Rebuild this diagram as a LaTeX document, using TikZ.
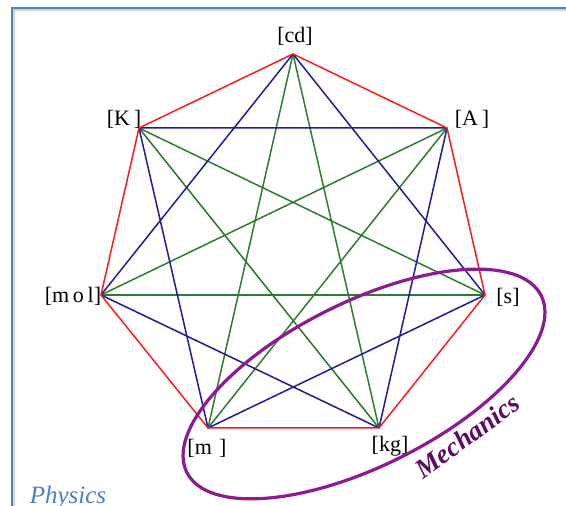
\documentclass[tikz,border=0pt]{standalone}
\usepackage{fontspec}
\setmainfont{Liberation Serif}
\usepackage{tikz}
\usetikzlibrary{calc}
\definecolor{sideR}{HTML}{FF1A1A}
\definecolor{skipB}{HTML}{1C1C9C}
\definecolor{skipG}{HTML}{2E7D2E}
\definecolor{mech}{HTML}{8E1A92}
\definecolor{mechtxt}{HTML}{5E0A5E}
\definecolor{frameB}{HTML}{4F81BD}
\definecolor{physB}{HTML}{4A7EC0}
\tikzset{
  unitlab/.style={font=\fontsize{22}{22}\selectfont,inner sep=0pt},
  side/.style={sideR,line width=1.5pt},
  skipone/.style={skipB,line width=1.5pt},
  skiptwo/.style={skipG,line width=1.5pt},
}

\begin{document}
\begin{tikzpicture}[x=1pt,y=1pt]
\useasboundingbox (0,0) rectangle (566,506);
% frame
\draw[gray!35,line width=2pt] (14,-20) -- (14,496) -- (600,496);
\draw[frameB,line width=2pt] (12,-20) -- (12,498) -- (600,498);
% the seven units
\coordinate (cd)  at (293,452);
\coordinate (A)   at (447,378);
\coordinate (s)   at (485,211);
\coordinate (kg)  at (379,78);
\coordinate (m)   at (208,78);
\coordinate (mol) at (101,211);
\coordinate (K)   at (139,378);
\node[unitlab] (cdlab)  at (295,470) {[cd]};
\node[unitlab] (Alab)   at (472,387) {[A\,]};
\node[unitlab] (slab)   at (508,209) {[s]};
\node[unitlab] (kglab)  at (390,60)  {[kg]};
\node[unitlab] (mlab)   at (207,58)  {[m\,\,]};
\node[unitlab] (mollab) at (73,210)  {[m\,o\,l]};
\node[unitlab] (Klab)   at (124,387) {[K\,]};
% distance three
\draw[skiptwo] (cd) -- (kg) (cd) -- (m) (A) -- (m) (A) -- (mol)
  (s) -- (K) (kg) -- (K);
\draw[skiptwo,line width=2.8pt] (s) -- (mol);
% distance two
\draw[skipone] (cd) -- (s) (A) -- (kg) (s) -- (m) (kg) -- (mol)
  (m) -- (K) (mol) -- (cd) (K) -- (A);
% sides
\draw[side] (cd) -- (A) -- (s) -- (kg) -- (m) -- (mol) -- (K) -- cycle;
% mechanics
\draw[mech,line width=3.2pt,rotate around={26.5:(364,122)}]
  (364,122) ellipse (198 and 82);
\node[mechtxt,rotate=36,font=\fontsize{27}{27}\selectfont\itshape\bfseries]
  (mechlab) at (467,70) {Mechanics};
\node[physB,font=\fontsize{25}{25}\selectfont\itshape] (physlab) at (68,8) {Physics};
\end{tikzpicture}
\end{document}
